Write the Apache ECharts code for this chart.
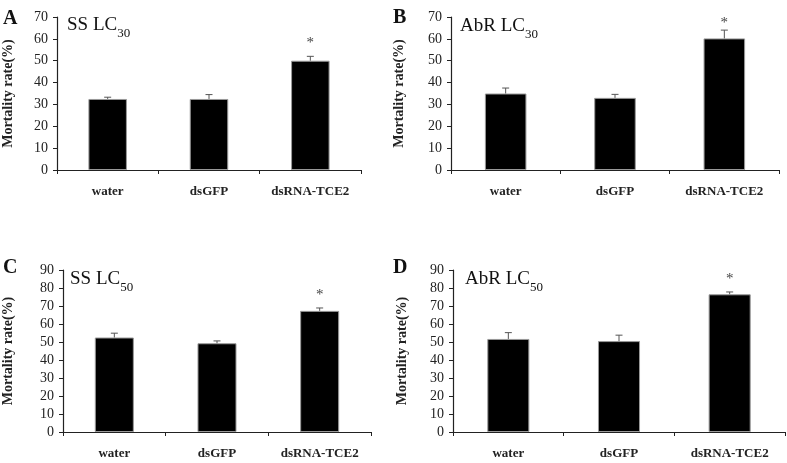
<!DOCTYPE html>
<html><head><meta charset="utf-8">
<script src="https://cdn.jsdelivr.net/npm/echarts@6/dist/echarts.min.js"></script>
<style>html,body{margin:0;padding:0;background:#fff}#c{width:787px;height:463px}</style>
</head><body><div id="c"></div>
<script>
const categories = ['water', 'dsGFP', 'dsRNA-TCE2'];
const ssLC30 = [32.5, 32.5, 50.0];
const ssLC30Err = [0.8, 2.0, 2.0];
const abrLC30 = [35.0, 33.0, 60.2];
const abrLC30Err = [2.5, 1.6, 3.8];
const ssLC50 = [52.5, 49.3, 67.3];
const ssLC50Err = [2.4, 1.3, 1.6];
const abrLC50 = [51.7, 50.5, 76.5];
const abrLC50Err = [3.5, 3.3, 1.3];
const marks = ['', '', '*'];
const yMaxLC30 = 70, yMaxLC50 = 90, yInterval = 10;
const panelLetters = ['A', 'B', 'C', 'D'];
const panelTitles = [['SS LC', '30'], ['AbR LC', '30'], ['SS LC', '50'], ['AbR LC', '50']];
const yName = 'Mortality rate(%)';

const SERIF = '"Liberation Serif","Times New Roman",serif';
const panels = [
  {vals: ssLC30, err: ssLC30Err, max: yMaxLC30, grid: {left: 53, top: 17, width: 308, height: 153}, gap: 42, letter: [3, 9], title: [67, 16]},
  {vals: abrLC30, err: abrLC30Err, max: yMaxLC30, grid: {left: 451, top: 17, width: 328, height: 153}, gap: 45, letter: [393, 8], title: [460, 17]},
  {vals: ssLC50, err: ssLC50Err, max: yMaxLC50, grid: {left: 59, top: 270, width: 312, height: 162}, gap: 48, letter: [3, 258], title: [70, 270]},
  {vals: abrLC50, err: abrLC50Err, max: yMaxLC50, grid: {left: 453, top: 270, width: 332, height: 162}, gap: 44, letter: [393, 258], title: [465, 270]}
];

const axisLine = {show: true, lineStyle: {color: '#222', width: 1.2}};
const option = {
  animation: false,
  backgroundColor: '#fff',
  title: [], grid: [], xAxis: [], yAxis: [], series: []
};
panels.forEach((p, i) => {
  option.grid.push(Object.assign({}, p.grid));
  option.xAxis.push({
    type: 'category', gridIndex: i, data: categories,
    axisLine: axisLine,
    axisTick: {show: true, interval: 0, inside: false, length: 4, lineStyle: {color: '#222'}},
    axisLabel: {interval: 0, hideOverlap: false, fontFamily: SERIF, fontWeight: 'bold', fontSize: 13, color: '#222', margin: 15}
  });
  option.yAxis.push({
    type: 'value', gridIndex: i, min: 0, max: p.max, interval: yInterval,
    name: yName, nameLocation: 'middle', nameGap: p.gap,
    nameTextStyle: {fontFamily: SERIF, fontWeight: 'bold', fontSize: 14, color: '#222'},
    axisLine: axisLine,
    axisTick: {show: true, length: 4, lineStyle: {color: '#222'}},
    splitLine: {show: false},
    axisLabel: {fontFamily: SERIF, fontSize: 14, color: '#222', margin: 9}
  });
  option.series.push({
    type: 'bar', xAxisIndex: i, yAxisIndex: i, data: p.vals, barWidth: '38%',
    itemStyle: {color: '#000', borderColor: '#999', borderWidth: 1}
  });
  option.series.push({
    type: 'custom', xAxisIndex: i, yAxisIndex: i, z: 5,
    data: p.vals.map((v, k) => [k, v, p.err[k]]),
    renderItem: function (params, api) {
      const x = api.value(0), v = api.value(1), e = api.value(2);
      const top = api.coord([x, v + e]);
      const base = api.coord([x, v]);
      const children = [
        {type: 'line', shape: {x1: top[0], y1: top[1], x2: base[0], y2: base[1]}, style: {stroke: '#555', lineWidth: 1}},
        {type: 'line', shape: {x1: top[0] - 3.5, y1: top[1], x2: top[0] + 3.5, y2: top[1]}, style: {stroke: '#555', lineWidth: 1}}
      ];
      const m = marks[params.dataIndex];
      if (m) {
        const gridTop = params.coordSys.y;
        const y = Math.max(top[1] - 13, gridTop + 6);
        children.push({type: 'text', style: {text: m, x: top[0], y: y, align: 'center', verticalAlign: 'middle', fontSize: 15, fontFamily: SERIF, fill: '#444'}});
      }
      return {type: 'group', children: children};
    }
  });
  option.title.push({
    text: panelLetters[i], left: p.letter[0], top: p.letter[1], padding: 0,
    textStyle: {fontFamily: SERIF, fontWeight: 'bold', fontSize: 20, color: '#111'}
  });
  option.title.push({
    text: '{a|' + panelTitles[i][0] + '}{s|' + panelTitles[i][1] + '}', left: p.title[0], top: p.title[1], padding: 0,
    textStyle: {rich: {
      a: {fontFamily: SERIF, fontWeight: 'normal', fontSize: 19, color: '#111', verticalAlign: 'top', lineHeight: 24},
      s: {fontFamily: SERIF, fontWeight: 'normal', fontSize: 13, color: '#111', verticalAlign: 'bottom', lineHeight: 24, padding: [10, 0, 0, 0]}
    }}
  });
});
const chart = echarts.init(document.getElementById('c'), null, {renderer: 'canvas'});
chart.setOption(option);
</script></body></html>
